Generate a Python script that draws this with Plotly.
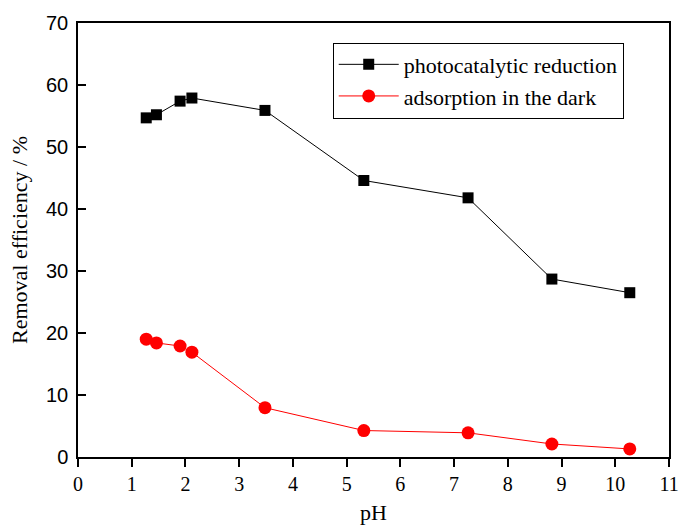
import plotly.graph_objects as go

ph = [1.27, 1.46, 1.90, 2.12, 3.48, 5.32, 7.26, 8.82, 10.27]
photocatalytic = [54.7, 55.2, 57.4, 57.9, 55.9, 44.6, 41.8, 28.7, 26.5]
adsorption = [19.0, 18.4, 17.9, 16.9, 7.95, 4.27, 3.9, 2.1, 1.3]
x_ticks = list(range(0, 12))
y_ticks = list(range(0, 80, 10))

fig = go.Figure()
fig.add_trace(go.Scatter(
    x=ph, y=photocatalytic, mode="lines+markers", name="photocatalytic reduction",
    line=dict(color="black", width=1),
    marker=dict(symbol="square", size=11, color="black"),
))
fig.add_trace(go.Scatter(
    x=ph, y=adsorption, mode="lines+markers", name="adsorption in the dark",
    line=dict(color="red", width=1),
    marker=dict(symbol="circle", size=13, color="red"),
))

fig.update_layout(
    width=679, height=525,
    margin=dict(l=78, r=10, t=23, b=68),
    plot_bgcolor="white", paper_bgcolor="white",
    showlegend=True,
    legend=dict(
        x=0.431, y=0.955, xanchor="left", yanchor="top",
        bgcolor="white", bordercolor="black", borderwidth=1,
        font=dict(family="Liberation Serif", size=22, color="black"),
        itemwidth=60, tracegroupgap=0,
    ),
    xaxis=dict(
        range=[0, 11], tickvals=x_ticks, ticktext=[str(v) for v in x_ticks],
        showgrid=False, zeroline=False, showline=True, linecolor="black", linewidth=1.5,
        mirror=True, ticks="outside", ticklen=8, tickwidth=1.5, tickcolor="black",
        tickfont=dict(family="Liberation Serif", size=20, color="black"),
        automargin=False,
        title=dict(text="pH", font=dict(family="Liberation Serif", size=22, color="black"), standoff=18),
    ),
    yaxis=dict(
        range=[0, 70], tickvals=y_ticks,
        showgrid=False, zeroline=False, showline=True, linecolor="black", linewidth=1.5,
        mirror=True, ticks="inside", ticklen=8, tickwidth=1.5, tickcolor="black",
        tickfont=dict(family="Liberation Sans", size=20, color="black"),
        ticklabelstandoff=4,
        automargin=False,
        title=dict(text="Removal efficiency / %", font=dict(family="Liberation Serif", size=22, color="black"), standoff=12),
    ),
)

fig.write_html("out.html")
